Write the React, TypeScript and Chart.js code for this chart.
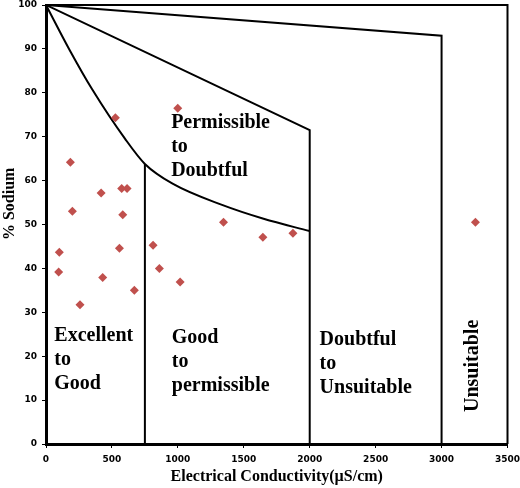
import React, { useEffect, useRef } from "react";
import { Chart, registerables } from "chart.js";

Chart.register(...registerables);

// Sample points: EC (µS/cm) and % Sodium
const sampleEC = [999, 526, 185, 418, 574, 615, 200, 582, 1346, 1645, 1873, 3257, 101, 96, 557, 812, 430, 860, 258, 670, 1017];
const sampleNa = [76.5, 74.3, 64.2, 57.2, 58.2, 58.2, 53.0, 52.2, 50.5, 47.1, 48.0, 50.5, 43.7, 39.2, 44.6, 45.3, 37.9, 40.0, 31.7, 35.0, 36.9];

// Wilcox boundaries
const unsuitableLineEC = [0, 3000, 3000];
const unsuitableLineNa = [100, 93, 0];
const doubtfulLineEC = [0, 2000, 2000];
const doubtfulLineNa = [100, 71.5, 0];
const permissibleCurveEC = [0, 180, 350, 600, 750, 960, 1340, 1650, 2000];
const permissibleCurveNa = [100, 89.7, 80.8, 69.5, 63.8, 59.3, 54.4, 51.3, 48.5];
const goodLineEC = [750, 750];
const goodLineNa = [0, 63.8];

const xTickValues = [0, 500, 1000, 1500, 2000, 2500, 3000, 3500];
const yTickValues = [0, 10, 20, 30, 40, 50, 60, 70, 80, 90, 100];

const regionLabels = [
  { lines: ["Permissible", "to", "Doubtful"], x: 949, y: 71.9 },
  { lines: ["Excellent", "to", "Good"], x: 63, y: 23.5 },
  { lines: ["Good", "to", "permissible"], x: 954, y: 23.1 },
  { lines: ["Doubtful", "to", "Unsuitable"], x: 2075, y: 22.5 },
];
const rotatedLabel = { text: "Unsuitable", x: 3239, y: 17.8 };
const yTitle = { text: "% Sodium", y: 54.7 };
const xTitle = "Electrical Conductivity(µS/cm)";

const zip = (xs: number[], ys: number[]) => xs.map((x, i) => ({ x, y: ys[i] }));

const serifBold = "bold 20px 'Liberation Serif', 'Times New Roman', serif";

const annotPlugin = {
  id: "annot",
  afterDatasetsDraw(chart: any) {
    const { ctx, scales, chartArea } = chart;
    const xs = scales.x;
    const ys = scales.y;
    ctx.save();
    ctx.fillStyle = "#000";
    ctx.font = serifBold;
    ctx.textAlign = "left";
    ctx.textBaseline = "alphabetic";
    regionLabels.forEach((r) => {
      const px = xs.getPixelForValue(r.x);
      const py = ys.getPixelForValue(r.y);
      r.lines.forEach((l, i) => ctx.fillText(l, px, py + i * 24));
    });
    // rotated label
    ctx.save();
    ctx.translate(xs.getPixelForValue(rotatedLabel.x), ys.getPixelForValue(rotatedLabel.y));
    ctx.rotate(-Math.PI / 2);
    ctx.textAlign = "center";
    ctx.textBaseline = "middle";
    ctx.fillText(rotatedLabel.text, 0, 0);
    ctx.restore();
    // y title
    ctx.save();
    ctx.font = "bold 16px 'Liberation Serif', 'Times New Roman', serif";
    ctx.translate(ys.left + 10, ys.getPixelForValue(yTitle.y));
    ctx.rotate(-Math.PI / 2);
    ctx.textAlign = "center";
    ctx.textBaseline = "middle";
    ctx.fillText(yTitle.text, 0, 0);
    ctx.restore();
    // frame top/right
    ctx.strokeStyle = "#000";
    ctx.lineWidth = 2;
    ctx.beginPath();
    ctx.moveTo(chartArea.left, chartArea.top);
    ctx.lineTo(chartArea.right, chartArea.top);
    ctx.lineTo(chartArea.right, chartArea.bottom);
    ctx.stroke();
    ctx.restore();
  },
};

const lineStyle = {
  showLine: true,
  pointRadius: 0,
  pointHoverRadius: 0,
  borderColor: "#000",
  borderWidth: 2,
  fill: false,
  tension: 0,
};

export default function App() {
  const ref = useRef<HTMLCanvasElement>(null);
  useEffect(() => {
    document.body.style.margin = "0";
    const tickFont = { family: "'DejaVu Sans', sans-serif", size: 9, weight: "bold" as const };
    const chart = new Chart(ref.current!, {
      type: "scatter",
      data: {
        datasets: [
          { label: "samples", data: zip(sampleEC, sampleNa), pointStyle: "rectRot", pointRadius: 4.5, backgroundColor: "#C0504D", borderWidth: 0, showLine: false },
          { label: "unsuitable", data: zip(unsuitableLineEC, unsuitableLineNa), ...lineStyle },
          { label: "doubtful", data: zip(doubtfulLineEC, doubtfulLineNa), ...lineStyle },
          { label: "permissible", data: zip(permissibleCurveEC, permissibleCurveNa), ...lineStyle, cubicInterpolationMode: "monotone" },
          { label: "good", data: zip(goodLineEC, goodLineNa), ...lineStyle },
        ] as any,
      },
      options: {
        animation: false,
        responsive: false,
        events: [],
        layout: { padding: { top: 5, right: 12.5, left: 0, bottom: 0 } },
        plugins: { legend: { display: false }, tooltip: { enabled: false } },
        scales: {
          x: {
            type: "linear",
            min: 0,
            max: 3500,
            afterBuildTicks: (s: any) => { s.ticks = xTickValues.map((v) => ({ value: v })); },
            afterFit: (s: any) => { s.height = 44; s.paddingLeft = 0; s.paddingRight = 0; },
            ticks: { font: tickFont, color: "#000", padding: 6, maxRotation: 0, callback: (v: any) => String(v) },
            grid: { drawOnChartArea: false, drawTicks: true, tickLength: 4, tickColor: "#000", tickWidth: 1 },
            border: { display: true, color: "#000", width: 3 },
            title: {
              display: true,
              text: xTitle,
              color: "#000",
              font: { family: "'Liberation Serif', 'Times New Roman', serif", size: 16, weight: "bold" },
              padding: { top: 0, bottom: 2 },
            },
          },
          y: {
            type: "linear",
            min: 0,
            max: 100,
            afterBuildTicks: (s: any) => { s.ticks = yTickValues.map((v) => ({ value: v })); },
            afterFit: (s: any) => { s.width = 46; s.paddingTop = 0; s.paddingBottom = 0; },
            ticks: { font: tickFont, color: "#000", padding: 5, callback: (v: any) => String(v) },
            grid: { drawOnChartArea: false, drawTicks: true, tickLength: 4, tickColor: "#000", tickWidth: 1 },
            border: { display: true, color: "#000", width: 3 },
          },
        },
      } as any,
      plugins: [annotPlugin],
    });
    return () => chart.destroy();
  }, []);
  return (
    <div style={{ width: 520, height: 488 }}>
      <canvas ref={ref} width={520} height={488} style={{ display: "block" }} />
    </div>
  );
}
